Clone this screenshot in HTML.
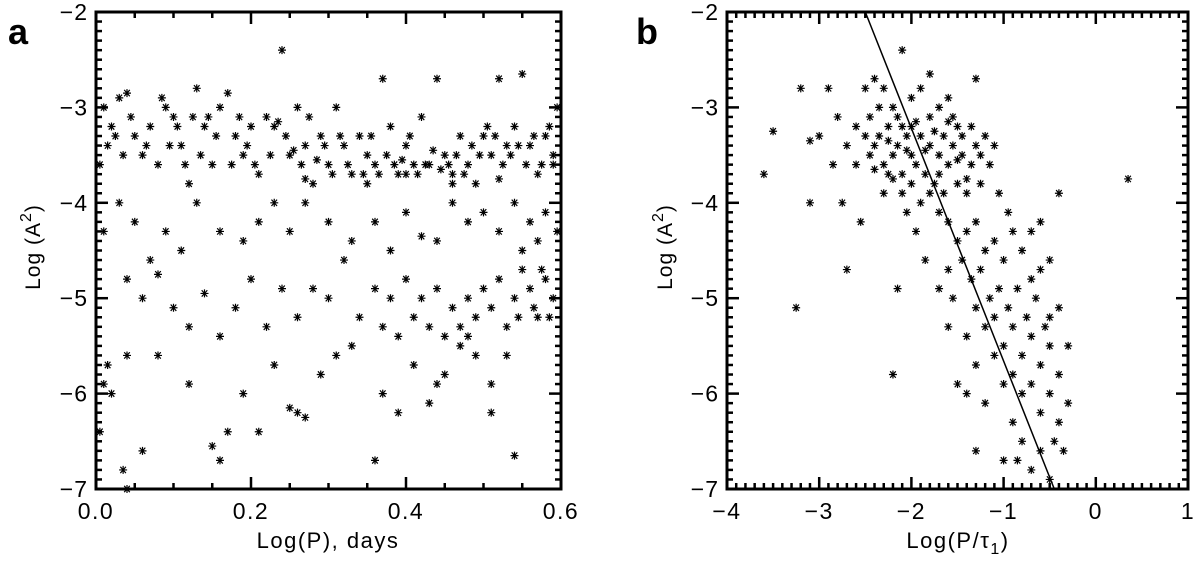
<!DOCTYPE html>
<html><head><meta charset="utf-8"><style>
html,body{margin:0;padding:0;background:#fff;}
svg{display:block;font-family:"Liberation Sans",sans-serif;}
</style></head><body>
<svg id="fig" width="1200" height="561" viewBox="0 0 1200 561">
<text x="8" y="44" font-size="36" font-weight="bold">a</text>
<text x="636" y="44" font-size="36" font-weight="bold">b</text>
<text transform="translate(40,247) rotate(-90)" text-anchor="middle" font-size="21" letter-spacing="1">Log (A<tspan dy="-9" font-size="16">2</tspan><tspan dy="9">)</tspan></text>
<text transform="translate(672,247) rotate(-90)" text-anchor="middle" font-size="21" letter-spacing="1">Log (A<tspan dy="-9" font-size="16">2</tspan><tspan dy="9">)</tspan></text>
<text x="328" y="548" text-anchor="middle" font-size="22" letter-spacing="1.5">Log(P), days</text>
<text x="958" y="548" text-anchor="middle" font-size="22" letter-spacing="1.5">Log(P/τ<tspan dy="6" font-size="16">1</tspan><tspan dy="-6">)</tspan></text>
<g id="pa"></g>
<g id="pb"></g>
</svg>
<script>
const xTicksA=["0.0","0.2","0.4","0.6"];
const xTickValsA=[0,0.2,0.4,0.6];
const xTicksB=["−4","−3","−2","−1","0","1"];
const xTickValsB=[-4,-3,-2,-1,0,1];
const yTicks=["−2","−3","−4","−5","−6","−7"];
const yTickVals=[-2,-3,-4,-5,-6,-7];
const fitLineX=[-2.5,-0.45];
const fitLineY=[-2,-7];
const pointsA=[
[0.01,-3.0],[0.02,-3.2],[0.03,-2.9],[0.04,-2.85],[0.05,-3.3],[0.06,-3.5],[0.07,-3.2],[0.08,-3.6],[0.09,-3.0],[0.10,-3.1],
[0.11,-3.4],[0.12,-3.8],[0.13,-2.8],[0.14,-3.2],[0.15,-3.6],[0.16,-3.0],[0.17,-2.85],[0.18,-3.3],[0.19,-3.5],[0.20,-3.2],
[0.21,-3.7],[0.22,-3.1],[0.23,-3.2],[0.24,-2.4],[0.25,-3.5],[0.26,-3.0],[0.27,-3.4],[0.28,-3.8],[0.29,-3.3],[0.30,-3.6],
[0.31,-3.0],[0.32,-3.4],[0.33,-3.7],[0.34,-3.3],[0.35,-3.5],[0.36,-3.6],[0.37,-2.7],[0.38,-3.2],[0.39,-3.7],[0.40,-3.4],
[0.41,-3.6],[0.42,-3.1],[0.43,-3.6],[0.44,-2.7],[0.45,-3.5],[0.46,-3.7],[0.47,-3.3],[0.48,-3.6],[0.49,-3.8],[0.50,-3.3],
[0.51,-3.5],[0.52,-2.7],[0.53,-3.4],[0.54,-3.2],[0.55,-2.65],[0.56,-3.4],[0.57,-3.7],[0.58,-3.3],[0.59,-3.5],[0.595,-3.0],
[0.005,-3.6],[0.015,-3.4],[0.025,-3.3],[0.035,-3.5],[0.045,-3.1],[0.065,-3.4],[0.085,-2.9],[0.095,-3.4],[0.105,-3.2],[0.115,-3.6],
[0.125,-3.1],[0.135,-3.5],[0.145,-3.1],[0.155,-3.3],[0.175,-3.6],[0.185,-3.1],[0.195,-3.4],[0.205,-3.6],[0.225,-3.5],[0.235,-3.15],
[0.245,-3.3],[0.255,-3.45],[0.265,-3.6],[0.275,-3.1],[0.285,-3.55],[0.295,-3.4],[0.305,-3.7],[0.315,-3.3],[0.325,-3.6],[0.345,-3.7],
[0.355,-3.3],[0.365,-3.7],[0.375,-3.5],[0.385,-3.6],[0.395,-3.55],[0.405,-3.3],[0.415,-3.7],[0.425,-3.6],[0.435,-3.45],[0.445,-3.65],
[0.455,-3.6],[0.465,-3.5],[0.475,-3.7],[0.485,-3.4],[0.495,-3.5],[0.505,-3.2],[0.515,-3.3],[0.525,-3.6],[0.535,-3.5],[0.545,-3.4],
[0.555,-3.6],[0.565,-3.3],[0.575,-3.6],[0.585,-3.2],[0.59,-3.6],[0.52,-3.75],[0.46,-3.8],[0.40,-3.7],[0.35,-3.8],[0.27,-3.75],
[0.01,-4.3],[0.03,-4.0],[0.05,-4.2],[0.07,-4.6],[0.09,-4.3],[0.11,-4.5],[0.13,-4.0],[0.16,-4.3],[0.19,-4.4],[0.21,-4.2],
[0.23,-4.0],[0.25,-4.3],[0.27,-4.0],[0.30,-4.2],[0.33,-4.4],[0.36,-4.2],[0.38,-4.5],[0.40,-4.1],[0.42,-4.35],[0.44,-4.4],
[0.46,-4.0],[0.48,-4.2],[0.50,-4.1],[0.52,-4.3],[0.54,-4.0],[0.56,-4.2],[0.58,-4.1],[0.595,-4.3],[0.57,-4.4],[0.55,-4.5],
[0.04,-4.8],[0.06,-5.0],[0.08,-4.75],[0.10,-5.1],[0.12,-5.3],[0.14,-4.95],[0.16,-5.4],[0.18,-5.1],[0.20,-4.8],[0.22,-5.3],
[0.24,-4.9],[0.26,-5.2],[0.28,-4.9],[0.30,-5.0],[0.32,-4.6],[0.34,-5.2],[0.36,-4.9],[0.37,-5.3],[0.38,-5.0],[0.39,-5.4],
[0.40,-4.8],[0.41,-5.2],[0.42,-5.0],[0.43,-5.3],[0.44,-4.9],[0.45,-5.4],[0.46,-5.1],[0.47,-5.3],[0.48,-5.0],[0.49,-5.2],
[0.50,-4.9],[0.51,-5.1],[0.52,-4.8],[0.53,-5.3],[0.54,-5.0],[0.55,-4.7],[0.56,-4.9],[0.57,-5.2],[0.58,-4.8],[0.59,-5.0],
[0.575,-4.7],[0.565,-5.1],[0.585,-5.2],[0.545,-5.2],[0.015,-5.7],[0.01,-5.9],[0.02,-6.0],[0.04,-5.6],[0.06,-6.6],[0.08,-5.6],
[0.12,-5.9],[0.15,-6.55],[0.17,-6.4],[0.19,-6.0],[0.21,-6.4],[0.23,-5.7],[0.25,-6.15],[0.27,-6.25],[0.29,-5.8],[0.31,-5.6],
[0.33,-5.5],[0.36,-6.7],[0.37,-6.0],[0.39,-6.2],[0.41,-5.7],[0.43,-6.1],[0.45,-5.8],[0.47,-5.5],[0.49,-5.6],[0.51,-5.9],
[0.53,-5.6],[0.54,-6.65],[0.51,-6.2],[0.035,-6.8],[0.04,-7.0],[0.005,-6.4],[0.16,-6.7],[0.26,-6.2],[0.44,-5.9],[0.48,-5.4]
];
const pointsB=[
[-3.6,-3.7],[-3.5,-3.25],[-3.2,-2.8],[-3.1,-3.35],[-3.0,-3.3],[-2.9,-2.8],[-2.8,-3.1],[-2.75,-4.0],[-2.7,-4.7],[-3.25,-5.1],
[-3.1,-4.0],[-2.85,-3.6],[-2.6,-3.2],[-2.55,-4.2],[-2.4,-2.7],[-2.3,-2.8],[-2.2,-3.0],[-2.1,-2.4],[-2.0,-2.9],[-1.9,-2.8],
[-1.8,-2.65],[-1.7,-3.0],[-1.6,-2.9],[-1.5,-3.2],[-1.3,-2.7],[-1.2,-3.3],[-1.1,-3.4],[-2.5,-3.3],[-2.45,-3.5],[-2.4,-3.4],
[-2.35,-3.3],[-2.3,-3.6],[-2.25,-3.2],[-2.2,-3.5],[-2.15,-3.4],[-2.1,-3.7],[-2.05,-3.3],[-2.0,-3.5],[-1.95,-3.6],[-1.9,-3.3],
[-1.85,-3.7],[-1.8,-3.4],[-1.75,-3.8],[-1.7,-3.5],[-1.65,-3.9],[-1.6,-3.6],[-1.55,-3.4],[-1.5,-3.8],[-1.45,-3.5],[-1.4,-3.9],
[-1.35,-3.6],[-1.3,-3.4],[-1.25,-3.8],[-2.3,-3.9],[-2.2,-3.75],[-2.1,-3.9],[-2.0,-3.8],[-1.9,-4.0],[-1.8,-3.9],[-1.7,-4.1],
[-2.45,-3.1],[-2.35,-3.0],[-2.25,-3.35],[-2.15,-3.1],[-2.05,-3.45],[-1.95,-3.15],[-1.85,-3.45],[-1.75,-3.25],[-1.65,-3.3],[-1.55,-3.1],
[-1.45,-3.3],[-1.35,-3.2],[-1.25,-3.5],[-1.15,-3.6],[-1.05,-3.9],[-0.95,-4.1],[-1.6,-4.2],[-1.5,-4.4],[-1.4,-4.3],[-1.3,-4.2],
[-1.2,-4.5],[-1.1,-4.4],[-1.0,-4.6],[-0.9,-4.3],[-0.8,-4.5],[-0.7,-4.8],[-0.6,-4.7],[-1.45,-4.6],[-1.35,-4.8],[-1.25,-4.7],
[-1.15,-5.0],[-1.05,-4.9],[-0.95,-5.1],[-0.85,-4.9],[-0.75,-5.2],[-0.65,-5.0],[-0.55,-5.3],[-0.5,-5.2],[-1.3,-5.1],[-1.2,-5.3],
[-1.1,-5.2],[-1.0,-5.5],[-0.9,-5.3],[-0.8,-5.6],[-0.7,-5.4],[-0.6,-5.7],[-0.5,-5.5],[-0.4,-5.8],[-0.3,-5.5],[-1.1,-5.6],
[-1.0,-5.9],[-0.9,-5.8],[-0.8,-6.0],[-0.7,-5.9],[-0.6,-6.2],[-0.5,-6.0],[-0.4,-6.3],[-0.3,-6.1],[-0.9,-6.3],[-0.8,-6.5],
[-0.6,-6.6],[-0.45,-6.5],[-0.35,-6.6],[-0.7,-6.8],[-0.5,-6.9],[-1.3,-6.6],[-1.0,-6.7],[-1.5,-5.9],[-1.4,-6.0],[-2.2,-5.8],
[-1.6,-5.3],[-1.7,-4.9],[-1.55,-5.0],[-0.4,-3.9],[0.35,-3.75],[-0.6,-4.2],[-2.6,-3.6],[-2.7,-3.4],[-2.05,-4.1],[-1.95,-4.3],
[-1.85,-4.6],[-2.15,-4.9],[-1.6,-4.7],[-1.4,-5.4],[-1.3,-5.7],[-1.2,-6.1],[-0.85,-6.7],[-0.4,-5.1],[-0.5,-4.6],[-0.7,-4.3],
[-2.25,-3.7],[-2.0,-3.2],[-1.7,-3.7],[-1.6,-3.15],[-1.8,-3.1],[-2.1,-3.2],[-1.5,-3.55],[-1.4,-3.75],[-2.4,-3.65],[-2.5,-2.8]
];

const NS="http://www.w3.org/2000/svg";
function mk(tag,attrs,parent){const e=document.createElementNS(NS,tag);for(const k in attrs)e.setAttribute(k,attrs[k]);parent.appendChild(e);return e;}

function panel(g,L,R,T,B,xmin,xmax,xTickVals,xTicks,minorX,pts,hasLine){
  const sx=v=>L+(v-xmin)/(xmax-xmin)*(R-L);
  const sy=v=>T+(-2-v)/5*(B-T);
  for(let v=-2;v>=-7.0001;v-=0.1){
    const y=sy(v);const major=Math.abs(v-Math.round(v))<1e-6;const len=major?12:6;
    const t1=mk('line',{x1:L,x2:L+len,y1:y,y2:y,stroke:'#000','stroke-width':2.5},g);
    
    
    const t2=mk('line',{x1:R,x2:R-len,y1:y,y2:y,stroke:'#000','stroke-width':2.5},g);
    
    
  }
  for(let v=xmin;v<=xmax+1e-9;v+=minorX){
    const x=sx(v);const major=xTickVals.some(t=>Math.abs(t-v)<1e-6);const len=major?12:6;
    const t1=mk('line',{x1:x,x2:x,y1:B,y2:B-len,stroke:'#000','stroke-width':2.5},g);
    
    
    const t2=mk('line',{x1:x,x2:x,y1:T,y2:T+len,stroke:'#000','stroke-width':2.5},g);
    
    
  }
  const fr=mk('rect',{x:L,y:T,width:R-L,height:B-T,fill:'none',stroke:'#000','stroke-width':3},g);
  
  
  yTickVals.forEach((v,i)=>{
    const t=mk('text',{x:L-8,y:sy(v)+8,'text-anchor':'end','font-size':23,'letter-spacing':1},g);t.textContent=yTicks[i];
    
    
  });
  xTickVals.forEach((v,i)=>{
    const t=mk('text',{x:sx(v),y:B+30,'text-anchor':'middle','font-size':23,'letter-spacing':1.5},g);t.textContent=xTicks[i];
    
    
  });
  pts.forEach(p=>{
    const x=sx(p[0]),y=sy(p[1]),r=4;
    const s=mk('path',{d:`M${x-r},${y}H${x+r}M${x-r*0.7},${y-r*0.8}L${x+r*0.7},${y+r*0.8}M${x-r*0.7},${y+r*0.8}L${x+r*0.7},${y-r*0.8}M${x},${y-r}V${y+r}`,stroke:'#000','stroke-width':1.2,fill:'none'},g);
    
    
  });
  if(hasLine){
    const l=mk('line',{x1:sx(fitLineX[0]),y1:sy(fitLineY[0]),x2:sx(fitLineX[1]),y2:sy(fitLineY[1]),stroke:'#000','stroke-width':1.5},g);
    
    
  }
}
panel(document.getElementById('pa'),96,561,12,489,0,0.6,xTickValsA,xTicksA,0.05,pointsA,false);
panel(document.getElementById('pb'),727,1188,12,489,-4,1,xTickValsB,xTicksB,0.1,pointsB,true);
</script>
</body></html>
